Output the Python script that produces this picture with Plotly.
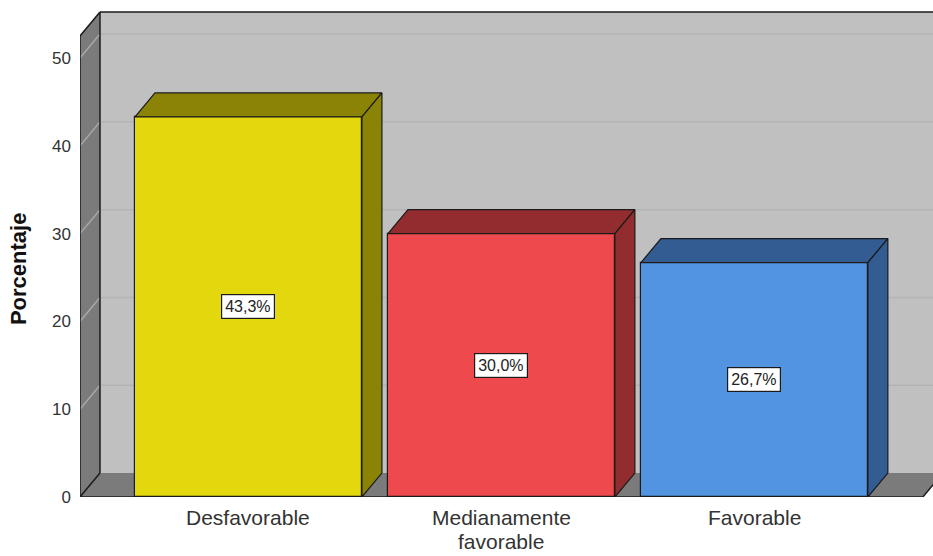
import plotly.graph_objects as go

# Survey result: share of respondents per rating
categories = ["Desfavorable", "Medianamente<br>favorable", "Favorable"]
percentages = [43.3, 30.0, 26.7]
y_ticks = [0, 10, 20, 30, 40, 50]

front_colors = ["#e3d70e", "#ee4a4d", "#5294e0"]
dark_colors = ["#8a8305", "#922c2e", "#335c92"]

FONT = "Liberation Sans, Arial, sans-serif"

# Pseudo-3D frame geometry (data units)
X_LEFT, X_RIGHT = -0.666, 2.666      # front edge of the floor
X_MAX = 2.706                        # right edge of the plotting area
Y_MAX = 55.47
WALL_TOP = 55.24
DX, DY = 0.079, 2.73                 # depth offset of the box
BAR_W = 0.897

WALL_GRAY = "#c0c0c0"
SIDE_GRAY = "#7b7b7b"
EDGE = "#1a1a1a"

shapes = []
# back wall
shapes.append(dict(type="rect", xref="x", yref="y", layer="below",
                   x0=X_LEFT + DX, x1=X_MAX + 0.2, y0=DY, y1=WALL_TOP,
                   fillcolor=WALL_GRAY, line=dict(width=0)))
# floor
shapes.append(dict(type="path", xref="x", yref="y", layer="below",
                   path=f"M {X_LEFT},0 L {X_RIGHT},0 L {X_RIGHT + DX},{DY} L {X_LEFT + DX},{DY} Z",
                   fillcolor=SIDE_GRAY, line=dict(width=0)))
# left wall
shapes.append(dict(type="path", xref="x", yref="y", layer="below",
                   path=f"M {X_LEFT},0 L {X_LEFT + DX},{DY} L {X_LEFT + DX},{WALL_TOP} "
                        f"L {X_LEFT},{WALL_TOP - DY} Z",
                   fillcolor=SIDE_GRAY, line=dict(width=0)))
# gridlines on back and left walls
for v in y_ticks[1:]:
    shapes.append(dict(type="line", xref="x", yref="y", layer="below",
                       x0=X_LEFT + DX, x1=X_MAX + 0.2, y0=v + DY, y1=v + DY,
                       line=dict(color="#b3b3b3", width=1.5)))
    shapes.append(dict(type="line", xref="x", yref="y", layer="below",
                       x0=X_LEFT, x1=X_LEFT + DX, y0=v, y1=v + DY,
                       line=dict(color="#a8a8a8", width=1.5)))
# frame edges
edges = [
    (X_LEFT + DX, WALL_TOP, X_MAX + 0.2, WALL_TOP),
    (X_LEFT, WALL_TOP - DY, X_LEFT + DX, WALL_TOP),
    (X_LEFT, 0, X_LEFT, WALL_TOP - DY),
    (X_LEFT + DX, DY, X_LEFT + DX, WALL_TOP),
    (X_LEFT, 0, X_RIGHT, 0),
    (X_LEFT, 0, X_LEFT + DX, DY),
    (X_RIGHT, 0, X_RIGHT + DX, DY),
]
for x0, y0, x1, y1 in edges:
    shapes.append(dict(type="line", xref="x", yref="y", layer="below",
                       x0=x0, y0=y0, x1=x1, y1=y1,
                       line=dict(color=EDGE, width=1.5)))

fig = go.Figure()

# front faces
fig.add_trace(go.Bar(
    x=list(range(len(categories))), y=percentages, width=BAR_W,
    marker=dict(color=front_colors, line=dict(color=EDGE, width=1.2)),
    hoverinfo="skip", showlegend=False,
))

# top and side faces of each bar
for i, (v, dark) in enumerate(zip(percentages, dark_colors)):
    x0, x1 = i - BAR_W / 2, i + BAR_W / 2
    fig.add_trace(go.Scatter(
        x=[x0, x0 + DX, x1 + DX, x1, x0], y=[v, v + DY, v + DY, v, v],
        mode="lines", fill="toself", fillcolor=dark,
        line=dict(color=EDGE, width=1.2), hoverinfo="skip", showlegend=False,
    ))
    fig.add_trace(go.Scatter(
        x=[x1, x1 + DX, x1 + DX, x1, x1], y=[0, DY, v + DY, v, 0],
        mode="lines", fill="toself", fillcolor=dark,
        line=dict(color=EDGE, width=1.2), hoverinfo="skip", showlegend=False,
    ))

annotations = []
# value labels
for i, v in enumerate(percentages):
    annotations.append(dict(
        x=i, y=v / 2, xref="x", yref="y", showarrow=False,
        text=f"{v:.1f}%".replace(".", ","),
        font=dict(family=FONT, size=16, color="#222"),
        bgcolor="white", bordercolor=EDGE, borderwidth=1.2, borderpad=3,
    ))

# category labels under the floor (one annotation per text line, tight leading)
LINE_Y = [-0.0431, -0.0924]
for i, cat in enumerate(categories):
    for k, line in enumerate(cat.split("<br>")):
        annotations.append(dict(
            x=i, y=LINE_Y[k], xref="x", yref="paper", showarrow=False,
            xanchor="center", yanchor="middle", text=line,
            font=dict(family=FONT, size=21, color="#333"),
        ))

# axis title
annotations.append(dict(
    x=-0.0727, y=0.470, xref="paper", yref="paper", showarrow=False,
    xanchor="center", yanchor="middle",
    textangle=-90, text="<b>Porcentaje</b>",
    font=dict(family=FONT, size=22, color="#111"),
))

fig.update_layout(
    width=933, height=556,
    margin=dict(l=80, r=0, t=10, b=59),
    paper_bgcolor="white", plot_bgcolor="white",
    font=dict(family=FONT, color="#333"),
    shapes=shapes, annotations=annotations,
    bargap=0,
)
fig.update_xaxes(
    range=[X_LEFT, X_MAX], showticklabels=False,
    showgrid=False, zeroline=False, showline=False, ticks="",
)
fig.update_yaxes(
    range=[0, Y_MAX], tickvals=y_ticks, showgrid=False, zeroline=False,
    showline=False, ticks="", tickfont=dict(size=17, color="#333"),
    ticklabelstandoff=8,
)

fig.write_html("out.html")
